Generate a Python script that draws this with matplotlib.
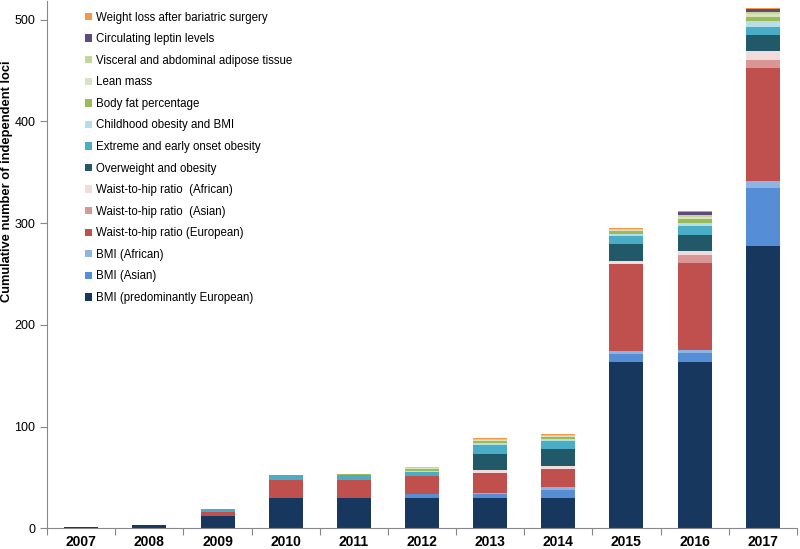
import numpy as np
import matplotlib.pyplot as plt

plt.rcParams['font.family'] = ['Liberation Sans', 'DejaVu Sans']

years = ['2007', '2008', '2009', '2010', '2011', '2012', '2013', '2014', '2015', '2016', '2017']

# 每个性状的累计位点数（自下而上堆叠）
bmi_eur = [1, 3, 12, 30, 30, 30, 30, 30, 163, 163, 277]
bmi_asian = [0, 0, 0, 0, 0, 4, 4, 8, 8, 9, 57]
bmi_african = [0, 0, 0, 0, 0, 0, 1, 3, 3, 3, 7]
whr_eur = [0, 0, 4, 17, 17, 17, 19, 17, 86, 86, 111]
whr_asian = [0, 0, 0, 0, 0, 0, 0, 0, 0, 8, 8]
whr_african = [0, 0, 0, 0, 0, 0, 3, 3, 3, 4, 9]
overweight = [0, 0, 0, 0, 0, 0, 16, 17, 16, 15, 16]
extreme = [0, 0, 3, 5, 5, 4, 9, 8, 8, 9, 8]
childhood = [0, 0, 0, 0, 0, 1, 2, 2, 2, 3, 6]
body_fat = [0, 0, 0, 0, 1, 2, 2, 2, 3, 4, 4]
lean_mass = [0, 0, 0, 0, 0, 1, 1, 1, 1, 2, 2]
visceral = [0, 0, 0, 0, 0, 1, 1, 1, 1, 2, 2]
leptin = [0, 0, 0, 0, 0, 0, 0, 0, 0, 3, 3]
weight_loss = [0, 0, 0, 0, 0, 0, 1, 1, 1, 1, 1]

series = [
    ('BMI (predominantly European)', bmi_eur, '#17375E'),
    ('BMI (Asian)', bmi_asian, '#558ED5'),
    ('BMI (African)', bmi_african, '#8EB4E3'),
    ('Waist-to-hip ratio (European)', whr_eur, '#C0504D'),
    ('Waist-to-hip ratio  (Asian)', whr_asian, '#D99694'),
    ('Waist-to-hip ratio  (African)', whr_african, '#F2DCDB'),
    ('Overweight and obesity', overweight, '#215968'),
    ('Extreme and early onset obesity', extreme, '#4BACC6'),
    ('Childhood obesity and BMI', childhood, '#B7DEE8'),
    ('Body fat percentage', body_fat, '#9BBB59'),
    ('Lean mass', lean_mass, '#D7E4BD'),
    ('Visceral and abdominal adipose tissue', visceral, '#C3D69B'),
    ('Circulating leptin levels', leptin, '#604A7B'),
    ('Weight loss after bariatric surgery', weight_loss, '#F79646'),
]

fig = plt.figure(figsize=(8, 5.49), dpi=100)
ax = fig.add_axes([0.059, 0.0377, 0.937, 0.96])

x = np.arange(len(years))
bottom = np.zeros(len(years))
for label, vals, color in series:
    vals = np.array(vals, dtype=float)
    ax.bar(x, vals, width=0.5, bottom=bottom, color=color, label=label)
    bottom += vals

ax.set_xlim(-0.5, len(years) - 0.5)
ax.set_ylim(0, 518)
ax.set_yticks([0, 100, 200, 300, 400, 500])

# y轴标题直接放在画布左侧（参考图中偏上）
fig.text(0.0085, 0.67, 'Cumulative number of independent loci', rotation=90,
         ha='center', va='center', fontsize=9.3, fontweight='bold')

# x轴：类别之间的刻度线，标签放在中间
ax.set_xticks(np.arange(len(years) + 1) - 0.5)
ax.set_xticklabels([])
ax.set_xticks(x, minor=True)
ax.set_xticklabels(years, minor=True, fontsize=10, fontweight='bold')
ax.tick_params(axis='x', which='minor', length=0, pad=5)
ax.tick_params(axis='x', which='major', length=5, color='#888888')
ax.tick_params(axis='y', length=5, color='#888888', labelsize=9, pad=3.5)

for s in ['top', 'right']:
    ax.spines[s].set_visible(False)
for s in ['left', 'bottom']:
    ax.spines[s].set_color('#888888')

handles, labels = ax.get_legend_handles_labels()
ax.legend(handles[::-1], labels[::-1], loc='upper left', bbox_to_anchor=(0.037, 1.0),
          frameon=False, fontsize=8.3, handlelength=0.6, handleheight=0.6,
          handletextpad=0.35, labelspacing=0.83)

plt.savefig('out.png', dpi=100)
